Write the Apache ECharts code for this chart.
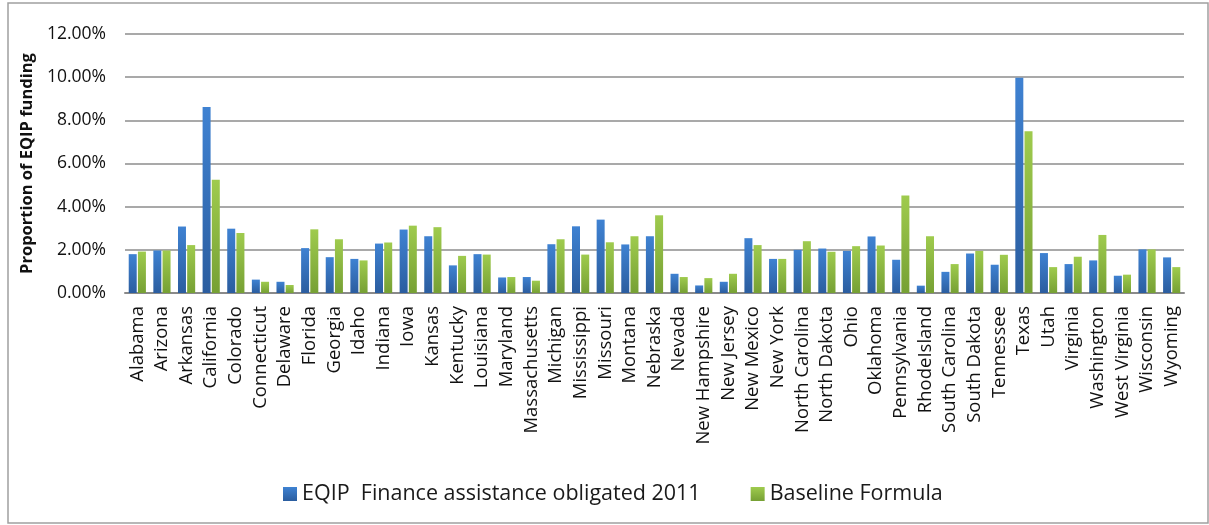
<!DOCTYPE html>
<html>
<head>
<meta charset="utf-8">
<script src="https://cdn.jsdelivr.net/npm/echarts@6/dist/echarts.min.js"></script>
<style>
  html, body { margin: 0; padding: 0; background: #fff; }
  #chart { width: 1209px; height: 525px; }
</style>
</head>
<body>
<div id="chart"></div>
<script>
  var states = ['Alabama', 'Arizona', 'Arkansas', 'California', 'Colorado', 'Connecticut', 'Delaware', 'Florida',
    'Georgia', 'Idaho', 'Indiana', 'Iowa', 'Kansas', 'Kentucky', 'Louisiana', 'Maryland', 'Massachusetts',
    'Michigan', 'Mississippi', 'Missouri', 'Montana', 'Nebraska', 'Nevada', 'New Hampshire', 'New Jersey',
    'New Mexico', 'New York', 'North Carolina', 'North Dakota', 'Ohio', 'Oklahoma', 'Pennsylvania',
    'RhodeIsland', 'South Carolina', 'South Dakota', 'Tennessee', 'Texas', 'Utah', 'Virginia', 'Washington',
    'West Virginia', 'Wisconsin', 'Wyoming']
  // percent of EQIP funding
  var eqip2011 = [1.80, 1.97, 3.08, 8.62, 2.98, 0.62, 0.52, 2.08,
    1.66, 1.58, 2.29, 2.94, 2.63, 1.28, 1.80, 0.72, 0.74,
    2.26, 3.09, 3.40, 2.25, 2.63, 0.89, 0.35, 0.52,
    2.54, 1.58, 2.00, 2.06, 1.95, 2.62, 1.54,
    0.34, 0.98, 1.83, 1.31, 9.97, 1.85, 1.34, 1.51,
    0.80, 2.02, 1.65]
  var baseline = [1.92, 1.97, 2.22, 5.25, 2.78, 0.52, 0.37, 2.95,
    2.49, 1.51, 2.34, 3.12, 3.05, 1.72, 1.78, 0.74, 0.57,
    2.49, 1.78, 2.35, 2.63, 3.60, 0.74, 0.69, 0.89,
    2.22, 1.58, 2.40, 1.91, 2.17, 2.20, 4.52,
    2.63, 1.34, 1.95, 1.77, 7.49, 1.20, 1.68, 2.69,
    0.85, 2.02, 1.20]
  var seriesNames = ['EQIP  Finance assistance obligated 2011', 'Baseline Formula']

  var myChart = echarts.init(document.getElementById('chart'))

  function grad (top, bottom) {
    return new echarts.graphic.LinearGradient(0, 0, 0, 1, [
      {offset: 0, color: top},
      {offset: 1, color: bottom}
    ])
  }

  myChart.setOption({
    animation: false,
    textStyle: {fontFamily: 'Open Sans'},
    graphic: [{
      type: 'rect',
      shape: {x: 8, y: 3, width: 1200, height: 520},
      style: {fill: 'none', stroke: '#a0a0a0', lineWidth: 1.5},
      silent: true
    }],
    legend: {
      left: 278,
      top: 478,
      itemWidth: 14,
      itemHeight: 14,
      itemGap: 50,
      icon: 'rect',
      textStyle: {fontSize: 21.5, color: '#1a1a1a', fontFamily: 'Open Sans'},
      data: seriesNames
    },
    grid: {
      left: 125,
      right: 25,
      top: 34,
      bottom: 232
    },
    xAxis: {
      type: 'category',
      data: states,
      axisLine: {lineStyle: {color: '#8a8a8a', width: 2}},
      axisTick: {show: false},
      axisLabel: {
        interval: 0,
        rotate: 90,
        margin: 13,
        fontSize: 18.5,
        color: '#111'
      }
    },
    yAxis: {
      type: 'value',
      min: 0,
      max: 12,
      interval: 2,
      name: 'Proportion of EQIP funding',
      nameLocation: 'middle',
      nameGap: 89,
      nameRotate: 90,
      nameTextStyle: {fontSize: 16.5, fontWeight: 'bold', color: '#111'},
      axisLine: {show: false},
      axisTick: {show: false},
      splitLine: {lineStyle: {color: '#8c8c8c', width: 1.5}},
      axisLabel: {
        margin: 19,
        fontSize: 17.5,
        color: '#111',
        formatter: function (v) { return v.toFixed(2) + '%' }
      }
    },
    series: [
      {
        name: seriesNames[0],
        type: 'bar',
        data: eqip2011,
        barWidth: 8,
        barGap: '15%',
        itemStyle: {color: grad('#3f82d2', '#2b5d9f')}
      },
      {
        name: seriesNames[1],
        type: 'bar',
        data: baseline,
        barWidth: 8,
        itemStyle: {color: grad('#9fcb4e', '#76a034')}
      }
    ]
  })
</script>
</body>
</html>
